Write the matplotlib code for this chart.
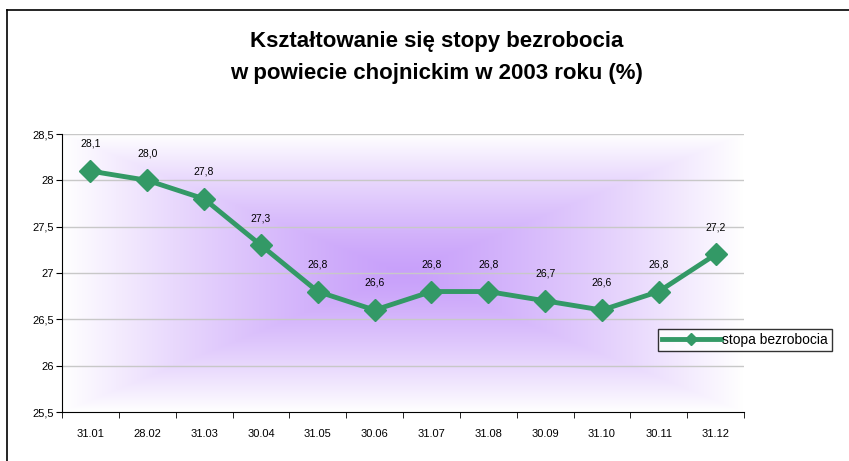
import numpy as np
import matplotlib.pyplot as plt
from matplotlib.lines import Line2D

plt.rcParams['font.family'] = ['Liberation Sans', 'DejaVu Sans']

# data
months = ['31.01', '28.02', '31.03', '30.04', '31.05', '30.06',
          '31.07', '31.08', '30.09', '31.10', '30.11', '31.12']
rate = [28.1, 28.0, 27.8, 27.3, 26.8, 26.6, 26.8, 26.8, 26.7, 26.6, 26.8, 27.2]
yticks = [25.5, 26, 26.5, 27, 27.5, 28, 28.5]

W, H = 849, 461
fig = plt.figure(figsize=(W / 100, H / 100), dpi=100)

# outer chart frame (only left and top edges visible)
fig.add_artist(Line2D([7 / W, 7 / W], [0, 1 - 10 / H], color='black', lw=1.2))
fig.add_artist(Line2D([7 / W, 1], [1 - 10 / H, 1 - 10 / H], color='black', lw=1.2))

fig.text(0.5 + 12 / W, 1 - 42 / H, 'Kształtowanie się stopy bezrobocia',
         ha='center', va='center', fontsize=16, fontweight='bold')
fig.text(0.5 + 12 / W, 1 - 73 / H, 'w powiecie chojnickim w 2003 roku (%)',
         ha='center', va='center', fontsize=16, fontweight='bold')

left, right, top, bottom = 62, 744, 134, 412
ax = fig.add_axes([left / W, 1 - bottom / H, (right - left) / W, (bottom - top) / H])

x = np.arange(len(months))
ax.set_xlim(-0.5, len(months) - 0.5)
ax.set_ylim(25.5, 28.5)

# rectangular "from centre" gradient background
n = 400
gx, gy = np.meshgrid(np.linspace(-1, 1, n), np.linspace(-1, 1, n))
t = np.clip(np.maximum(np.abs(gx), np.abs(gy)), 0, 1)
centre = np.array([200, 160, 250]) / 255
img = np.empty((n, n, 3))
for c in range(3):
    img[..., c] = centre[c] + (1 - centre[c]) * t ** 1.3
ax.imshow(img, extent=[-0.5, len(months) - 0.5, 25.5, 28.5],
          aspect='auto', zorder=0, interpolation='bilinear')

for yv in yticks[1:]:
    ax.axhline(yv, color='#c8c8c8', lw=1, zorder=1)

ax.plot(x, rate, color='#339966', lw=3.5, marker='D', markersize=11,
        label='stopa bezrobocia', zorder=3)

for xi, v in zip(x, rate):
    ax.annotate(f'{v:.1f}'.replace('.', ','), (xi, v), xytext=(0, 19.5),
                textcoords='offset points', ha='center', va='center',
                fontsize=7.5, color='black')

ax.set_yticks(yticks)
ax.set_yticklabels([f'{v:g}'.replace('.', ',') for v in yticks], fontsize=8)
ax.set_xticks(x)
ax.set_xticklabels(months, fontsize=8)
ax.set_xticks(np.arange(-0.5, len(months)), minor=True)
ax.tick_params(axis='x', which='major', length=0, pad=12)
ax.tick_params(axis='x', which='minor', length=4, direction='out')
ax.tick_params(axis='y', length=4, direction='out', pad=2)

for s in ['top', 'right']:
    ax.spines[s].set_visible(False)
ax.spines['left'].set_color('black')
ax.spines['bottom'].set_color('black')

leg = fig.legend(handles=[Line2D([], [], color='#339966', lw=3.5, marker='D',
                                 markersize=6, label='stopa bezrobocia')],
                 loc='center', bbox_to_anchor=(745 / W, 1 - 340 / H),
                 fontsize=10, frameon=True, fancybox=False, handlelength=4.2,
                 handletextpad=0.1, borderpad=0.3, borderaxespad=0)
leg.get_frame().set_edgecolor('black')
leg.get_frame().set_linewidth(1)

fig.savefig('out.png', dpi=100)
